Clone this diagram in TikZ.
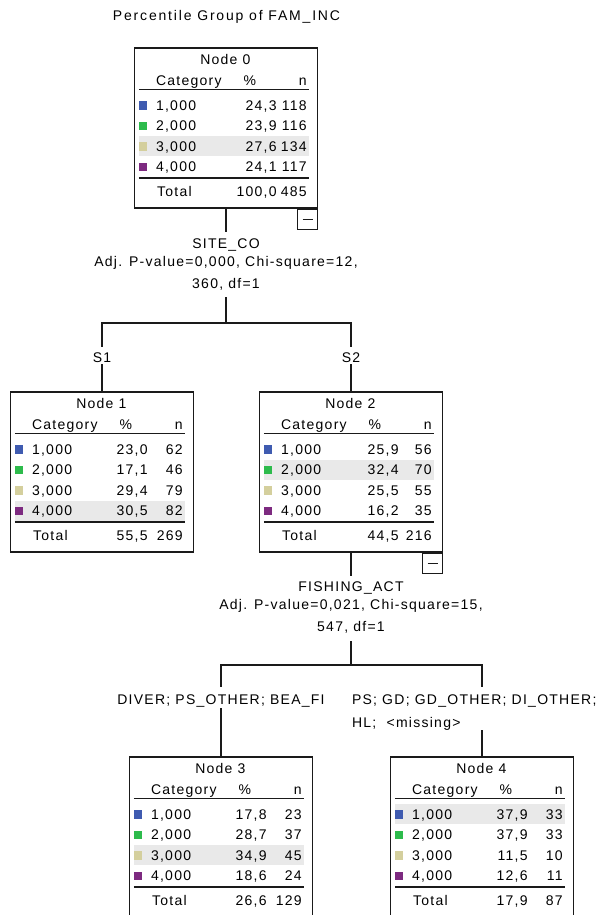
\documentclass[tikz,border=0pt]{standalone}
\usepackage{fontspec}
\setmainfont{Liberation Sans}[LetterSpace=9]

\definecolor{catone}{HTML}{3F5BB0}
\definecolor{cattwo}{HTML}{2DBB4C}
\definecolor{catthree}{HTML}{D4CF9D}
\definecolor{catfour}{HTML}{7D2A80}
\definecolor{rowshade}{HTML}{E9E9E9}
\definecolor{ink}{HTML}{1A1A1A}

\tikzset{
  treebox/.style={draw=ink, line width=1.3pt, minimum width=183pt, minimum height=160pt, inner sep=0pt},
  conn/.style={draw=ink, line width=1.3pt},
  txt/.style={font=\fontsize{14}{18}\selectfont, inner sep=0pt, text=black},
  lbl/.style={txt},
  cell/.style={txt, anchor=base west},
  cellr/.style={txt, anchor=base east},
  cellc/.style={txt, anchor=base},
  swatch/.style={minimum size=8.5pt, inner sep=0pt},
  collapse/.style={draw=ink, line width=1.2pt, minimum size=20pt, inner sep=0pt, anchor=north east},
  thinrule/.style={draw=ink, line width=1pt},
  thickrule/.style={draw=ink, line width=2pt},
}

% table skeleton of a tree node: #1 name prefix, #2 title, #3 highlighted row
\newcommand\tblframe[3]{%
  \fill[rowshade] (5,{27.5+20.5*#3}) rectangle (175,{47.5+20.5*#3});
  \node[cellc] (#1t) at (91.5,17) {#2};
  \node[cell] (#1hc) at (22,38.5) {Category};
  \node[cellc] (#1hp) at (116,38.5) {\%};
  \node[cellr] (#1hn) at (173,38.5) {n};
  \draw[thinrule] (5,42) -- (175,42);
  \draw[thickrule] (5,131) -- (175,131);
}
% one category row: prefix, index, colour, category, percent, count
\newcommand\tblrow[6]{%
  \node[swatch, fill=#3] (#1s#2) at (9,{37.5+20.5*#2}) {};
  \node[cell] (#1c#2) at (22,{42.5+20.5*#2}) {#4};
  \node[cellr] (#1p#2) at (\pcol,{42.5+20.5*#2}) {#5};
  \node[cellr] (#1n#2) at (173,{42.5+20.5*#2}) {#6};
}
% total row: prefix, percent, count
\newcommand\tbltotal[3]{%
  \node[cell] (#1tl) at (23,149.5) {Total};
  \node[cellr] (#1tp) at (\pcol,149.5) {#2};
  \node[cellr] (#1tn) at (173,149.5) {#3};
}

\begin{document}
\begin{tikzpicture}[x=1pt,y=-1pt]
\clip (0,0) rectangle (605,915);
\fill[white] (0,0) rectangle (605,915);

\node[txt, anchor=base] (title) at (226.5,21) {\addfontfeatures{LetterSpace=13}Percentile Group of FAM\_INC};

% tree nodes
\node[treebox] (n0) at (226,128) {};
\node[treebox] (n1) at (102,472) {};
\node[treebox] (n2) at (351,472) {};
\node[treebox] (n3) at (221,837) {};
\node[treebox] (n4) at (482,837) {};

% collapse markers
\node[collapse] (c0) at (n0.south east) {};
\draw[line width=1.2pt, draw=ink] ([xshift=-5pt]c0.center) -- ([xshift=5pt]c0.center);
\node[collapse] (c2) at (n2.south east) {};
\draw[line width=1.2pt, draw=ink] ([xshift=-5pt]c2.center) -- ([xshift=5pt]c2.center);

% node tables
\def\pcol{143}
\begin{scope}[shift={(n0.north west)}]
  \tblframe{n0}{Node 0}{3}
  \tblrow{n0}{1}{catone}{1,000}{24,3}{118}
  \tblrow{n0}{2}{cattwo}{2,000}{23,9}{116}
  \tblrow{n0}{3}{catthree}{3,000}{27,6}{134}
  \tblrow{n0}{4}{catfour}{4,000}{24,1}{117}
  \tbltotal{n0}{100,0}{485}
\end{scope}
\def\pcol{138}
\begin{scope}[shift={(n1.north west)}]
  \tblframe{n1}{Node 1}{4}
  \tblrow{n1}{1}{catone}{1,000}{23,0}{62}
  \tblrow{n1}{2}{cattwo}{2,000}{17,1}{46}
  \tblrow{n1}{3}{catthree}{3,000}{29,4}{79}
  \tblrow{n1}{4}{catfour}{4,000}{30,5}{82}
  \tbltotal{n1}{55,5}{269}
\end{scope}
\def\pcol{140}
\begin{scope}[shift={(n2.north west)}]
  \tblframe{n2}{Node 2}{2}
  \tblrow{n2}{1}{catone}{1,000}{25,9}{56}
  \tblrow{n2}{2}{cattwo}{2,000}{32,4}{70}
  \tblrow{n2}{3}{catthree}{3,000}{25,5}{55}
  \tblrow{n2}{4}{catfour}{4,000}{16,2}{35}
  \tbltotal{n2}{44,5}{216}
\end{scope}
\def\pcol{138}
\begin{scope}[shift={(n3.north west)}]
  \tblframe{n3}{Node 3}{3}
  \tblrow{n3}{1}{catone}{1,000}{17,8}{23}
  \tblrow{n3}{2}{cattwo}{2,000}{28,7}{37}
  \tblrow{n3}{3}{catthree}{3,000}{34,9}{45}
  \tblrow{n3}{4}{catfour}{4,000}{18,6}{24}
  \tbltotal{n3}{26,6}{129}
\end{scope}
\begin{scope}[shift={(n4.north west)}]
  \tblframe{n4}{Node 4}{1}
  \tblrow{n4}{1}{catone}{1,000}{37,9}{33}
  \tblrow{n4}{2}{cattwo}{2,000}{37,9}{33}
  \tblrow{n4}{3}{catthree}{3,000}{11,5}{10}
  \tblrow{n4}{4}{catfour}{4,000}{12,6}{11}
  \tbltotal{n4}{17,9}{87}
\end{scope}

% split labels
\node[lbl] (l0) at (226,264.5) {\parbox[c][65pt][t]{300pt}{\centering\rule{0pt}{16pt}SITE\_CO\\Adj. P-value=0,000, Chi-square=12,\\[4pt]360, df=1}};
\node[lbl] (l2) at (351,608.5) {\parbox[c][65pt][t]{300pt}{\centering\rule{0pt}{15pt}FISHING\_ACT\\Adj. P-value=0,021, Chi-square=15,\\[4pt]547, df=1}};

% branch labels
\node[lbl] (s1) at (102,355.5) {\parbox[c][17pt][t]{40pt}{\centering\rule{0pt}{15pt}S1}};
\node[lbl] (s2) at (351,355.5) {\parbox[c][17pt][t]{40pt}{\centering\rule{0pt}{15pt}S2}};
\node[lbl] (sl3) at (221,697.5) {\parbox[c][21pt][t]{260pt}{\centering\rule{0pt}{17pt}DIVER; PS\_OTHER; BEA\_FI}};
\node[lbl] (sl4) at (482,708.5) {\parbox[c][43pt][t]{260pt}{\raggedright\rule{0pt}{17pt}PS; GD; GD\_OTHER; DI\_OTHER;\\[5pt]HL;\ \ <missing>}};

% connectors
\coordinate (b0) at (226,323);
\coordinate (b2) at (351,665);
\draw[conn] (n0.south) -- (l0.north);
\draw[conn] (l0.south) -- (b0);
\draw[conn] (s1.north) |- (b0) -| (s2.north);
\draw[conn] (s1.south) -- (n1.north);
\draw[conn] (s2.south) -- (n2.north);
\draw[conn] (n2.south) -- (l2.north);
\draw[conn] (l2.south) -- (b2);
\draw[conn] (sl3.north) |- (b2) -| (sl4.north);
\draw[conn] (sl3.south) -- (n3.north);
\draw[conn] (sl4.south) -- (n4.north);
\end{tikzpicture}
\end{document}
